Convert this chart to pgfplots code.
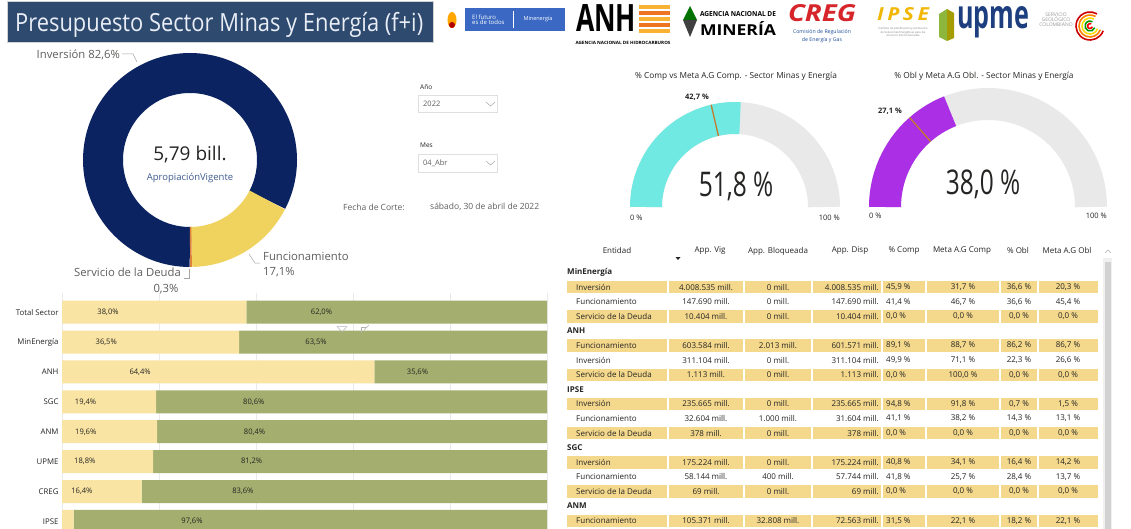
\documentclass[border=0pt]{standalone}
\usepackage{pgfplots}
\pgfplotsset{compat=1.18}
\usepackage{pgfplotstable}
\usepackage{fontspec}
\setmainfont{Open Sans}

\definecolor{titlebg}{HTML}{2E4A6F}
\definecolor{titletxt}{HTML}{E9EEF6}
\definecolor{navy}{HTML}{0B2361}
\definecolor{dyellow}{HTML}{F0D35E}
\definecolor{dorange}{HTML}{E0823A}
\definecolor{gcyan}{HTML}{6FE9E1}
\definecolor{gpurple}{HTML}{AB2FE4}
\definecolor{ggray}{HTML}{E9E9E9}
\definecolor{gtarget}{HTML}{C27B2E}
\definecolor{barY}{HTML}{F9E4A3}
\definecolor{barO}{HTML}{A4AE6E}
\definecolor{rowhl}{HTML}{F4D88C}
\definecolor{txt}{HTML}{252423}
\definecolor{txtgray}{HTML}{605E5C}
\definecolor{subblue}{HTML}{3E5C8E}
\definecolor{gridgray}{HTML}{EAEAEA}
\definecolor{minblue}{HTML}{3A68C2}
\definecolor{cregred}{HTML}{D7262B}
\definecolor{cregblue}{HTML}{1F4E9C}
\definecolor{ipseyel}{HTML}{F2B705}
\definecolor{upmeblue}{HTML}{1E3F7F}
\definecolor{upmegreen}{HTML}{8DB63C}
\definecolor{anhorange}{HTML}{EE7422}
\definecolor{anhyellow}{HTML}{F9B233}

\newcommand\fs[1]{\fontsize{#1}{#1}\selectfont}
\tikzset{tc/.style={font=\fs{8}, text=txt, inner sep=0pt}}

\pgfplotstableread{
seg pct
Inversion 82.6
Funcionamiento 17.1
Servicio 0.3
}\donutdata

\pgfplotstableread{
gauge value target
comp 51.8 42.7
obl 38.0 27.1
}\gaugedata

\pgfplotstableread{
idx obl obllab rest restlab
0 38.0 38,0\% 62.0 62,0\%
1 36.5 36,5\% 63.5 63,5\%
2 64.4 64,4\% 35.6 35,6\%
3 19.4 19,4\% 80.6 80,6\%
4 19.6 19,6\% 80.4 80,4\%
5 18.8 18,8\% 81.2 81,2\%
6 16.4 16,4\% 83.6 83,6\%
7 2.4 {} 97.6 97,6\%
}\bardata

\newcommand\trow[9]{\def\ry{#1}\def\rh{#2}\def\ra{#3}\def\rb{#4}\def\rc{#5}\def\rd{#6}\def\re{#7}\def\rf{#8}\def\rg{#9}\trowfin}
\newcommand\trowfin[1]{%
  \ifnum\rh=1
    \foreach \xa/\xb in {566/668,668/744,744/812,812/882,882/926,926/1000,1000/1038,1038/1099}
      {\fill[rowhl] (\xa+0.7,\ry-6.2) rectangle (\xb-0.7,\ry+6.2);}
  \fi
  \node[tc,anchor=west] at (576,\ry) {\ra};
  \node[tc] at (706,\ry) {\rb};
  \node[tc] at (778,\ry) {\rc};
  \node[tc,anchor=east] at (879,\ry) {\rd};
  \node[tc,anchor=west] at (886,\ry) {\re};
  \node[tc] at (963,\ry) {\rf};
  \node[tc] at (1019,\ry) {\rg};
  \node[tc] at (1068,\ry) {#1};
}
\newcommand\tsec[2]{\node[tc,anchor=west,font=\bfseries\fs{8}] at (567,#1) {#2};}

\begin{document}
\begin{tikzpicture}[x=1pt,y=-1pt]
\path[use as bounding box] (0,0) rectangle (1131,529);
\clip (0,0) rectangle (1131,529);
\fill[white] (0,0) rectangle (1131,529);

% ---- values from the tables
\pgfplotstablegetelem{0}{pct}\of\donutdata \let\pInv\pgfplotsretval
\pgfplotstablegetelem{1}{pct}\of\donutdata \let\pFun\pgfplotsretval
\pgfplotstablegetelem{2}{pct}\of\donutdata \let\pSer\pgfplotsretval
\pgfmathsetmacro\dA{270}
\pgfmathsetmacro\dB{270-3.6*\pInv}
\pgfmathsetmacro\dC{\dB-3.6*\pFun}
\pgfmathsetmacro\dD{\dC-3.6*\pSer}
\pgfplotstablegetelem{0}{value}\of\gaugedata \let\gVa\pgfplotsretval
\pgfplotstablegetelem{0}{target}\of\gaugedata \let\gTa\pgfplotsretval
\pgfplotstablegetelem{1}{value}\of\gaugedata \let\gVb\pgfplotsretval
\pgfplotstablegetelem{1}{target}\of\gaugedata \let\gTb\pgfplotsretval
\pgfmathsetmacro\gaA{180-1.8*\gVa}
\pgfmathsetmacro\gtA{180-1.8*\gTa}
\pgfmathsetmacro\gaB{180-1.8*\gVb}
\pgfmathsetmacro\gtB{180-1.8*\gTb}

% ---- title bar
\fill[titlebg] (7,1) rectangle (433,42);
\draw[gray!35, line width=0.6pt] (7,1) rectangle (433,42);
\node[anchor=base west, text=titletxt, inner sep=0pt] at (15,32) {\resizebox{408pt}{\height}{\fs{25}Presupuesto Sector Minas y Energía (f+i)}};

% ---- logos (approximate)
\fill[orange!70!yellow] (452,20) ellipse (4.5 and 8);
\fill[red!70!black] (452,25) ellipse (3 and 3);
\fill[minblue] (465,8) rectangle (565,31);
\node[anchor=west, text=white, inner sep=0pt, align=left, font=\fs{6}] at (472,19.5) {El futuro\\[-0.5pt]es de todos};
\draw[white, line width=0.4pt] (513,11) -- (513,28);
\node[text=white, inner sep=0pt, font=\fs{5.5}] at (538,19.5) {Minenergía};
\node[anchor=west, inner sep=0pt] at (576,18.5) {\resizebox{60pt}{27pt}{\bfseries ANH}};
\foreach \yy/\cc in {5/anhyellow,11/anhorange,17/anhyellow,23/anhorange,29/anhyellow}
  {\fill[\cc] (639,\yy) rectangle (670,\yy+4);}
\node[inner sep=0pt] at (623,42.5) {\resizebox{95pt}{3.2pt}{\bfseries AGENCIA NACIONAL DE HIDROCARBUROS}};
\fill[green!45!black] (690,6) -- (697,20) -- (683,20) -- cycle;
\fill[black!75] (683,20) -- (697,20) -- (690,37) -- cycle;
\node[inner sep=0pt] at (738,14) {\resizebox{76pt}{5pt}{\bfseries AGENCIA NACIONAL DE}};
\node[inner sep=0pt] at (738,29) {\resizebox{76pt}{14pt}{\bfseries MINERÍA}};
\node[inner sep=0pt, text=cregred] at (822,13) {\resizebox{68pt}{17pt}{\bfseries\itshape CREG}};
\node[inner sep=0pt, text=cregblue, font=\fs{5.2}] at (822,32) {Comisión de Regulación};
\node[inner sep=0pt, text=cregblue, font=\fs{5.2}] at (822,40) {de Energía y Gas};
\node[inner sep=0pt, text=ipseyel] at (903,14) {\resizebox{52pt}{13pt}{\bfseries\itshape I\,P\,S\,E}};
\node[inner sep=0pt, text=gray, font=\fs{2.8}, align=center] at (903,32) {Instituto de planificación y promoción\\de Soluciones Energéticas para las\\zonas no interconectadas};
\fill[upmegreen] (939,14) -- (947,9) -- (947,41) -- (939,37) -- cycle;
\fill[olive!80!yellow] (947,9) -- (954,13) -- (954,38) -- (947,41) -- cycle;
\node[inner sep=0pt, text=upmeblue] at (993,22) {\resizebox{72pt}{22pt}{\bfseries upme}};
\node[inner sep=0pt, text=gray!80, font=\fs{5}, align=center] at (1056,20) {SERVICIO\\GEOLÓGICO\\COLOMBIANO};
\foreach \rr/\cc in {14/red!80!black,11/orange,8/yellow!80!orange,5/green!60!black,2.5/red}
  {\draw[\cc, line width=1.6pt] (1090,26) ++(20:\rr) arc[start angle=20, end angle=300, radius=\rr];}

% ---- donut
\begin{axis}[at={(190pt,-160pt)}, anchor=center, x=1pt, y=1pt,
  xmin=-115, xmax=115, ymin=-115, ymax=115, hide axis, clip=false]
\addplot[draw=navy, line width=40pt, domain=\dB:\dA, samples=120, variable=\t] ({87*cos(\t)},{87*sin(\t)});
\addplot[draw=dyellow, line width=40pt, domain=\dC:\dB, samples=40, variable=\t] ({87*cos(\t)},{87*sin(\t)});
\addplot[draw=dorange, line width=40pt, domain=\dD:\dC, samples=3, variable=\t] ({87*cos(\t)},{87*sin(\t)});
\end{axis}
\node[font=\fs{19}, text=txt] at (190,155) {5,79 bill.};
\node[font=\fs{9.5}, text=subblue] at (190,178) {ApropiaciónVigente};
\node[anchor=east, font=\fs{11.3}, text=txtgray, inner sep=0pt] at (120,55) {Inversión 82,6\%};
\draw[gray!70, line width=0.5pt] (122,54) -- (133,54) -- (137,62);
\node[anchor=west, font=\fs{11.3}, text=txtgray, inner sep=0pt] at (263,256) {Funcionamiento};
\node[anchor=west, font=\fs{11.3}, text=txtgray, inner sep=0pt] at (263,272) {17,1\%};
\draw[gray!70, line width=0.5pt] (249,254) -- (255,263) -- (260,263);
\node[anchor=east, font=\fs{11.3}, text=txtgray, inner sep=0pt] at (181,272) {Servicio de la Deuda};
\draw[gray!70, line width=0.5pt] (184,278) -- (189,278) -- (189,269);
\node[font=\fs{11.3}, text=txtgray, inner sep=0pt] at (166,289) {0,3\%};

% ---- slicers
\node[anchor=west, font=\fs{6.5}, text=txt, inner sep=0pt] at (420,87) {Año};
\draw[gray!25, line width=0.5pt] (418,95) rectangle (497,112);
\node[anchor=west, font=\fs{7.5}, text=txtgray, inner sep=0pt] at (423,104) {2022};
\draw[gray!70, line width=0.5pt] (486,102) -- (490.5,106) -- (495,102);
\node[anchor=west, font=\fs{6.5}, text=txt, inner sep=0pt] at (420,145) {Mes};
\draw[gray!25, line width=0.5pt] (418,154) rectangle (497,172);
\node[anchor=west, font=\fs{7.5}, text=txtgray, inner sep=0pt] at (423,163) {04\_Abr};
\draw[gray!70, line width=0.5pt] (486,161) -- (490.5,165) -- (495,161);
\node[anchor=west, font=\fs{8.5}, text=txtgray, inner sep=0pt] at (343,207) {Fecha de Corte:};
\node[anchor=west, font=\fs{8.5}, text=txtgray, inner sep=0pt] at (430,207) {sábado, 30 de abril de 2022};

% ---- gauge 1
\node[font=\fs{8.3}, text=txt] at (736,76) {\% Comp vs Meta A.G Comp. - Sector Minas y Energía};
\begin{axis}[at={(735pt,-207pt)}, anchor=center, x=1pt, y=1pt,
  xmin=-130, xmax=130, ymin=-130, ymax=130, hide axis, clip=false]
\addplot[draw=ggray, line width=32pt, domain=0:180, samples=90, variable=\t] ({89*cos(\t)},{89*sin(\t)});
\addplot[draw=gcyan, line width=32pt, domain=\gaA:180, samples=60, variable=\t] ({89*cos(\t)},{89*sin(\t)});
\addplot[draw=gtarget, line width=1.3pt, domain=73:105, samples=2, variable=\r] ({\r*cos(\gtA)},{\r*sin(\gtA)});
\node[font=\bfseries\fs{7.5}, text=txt] at (axis cs:-38,110) {42,7 \%};
\node[text=txt] at (axis cs:1,21) {\scalebox{0.72}[1]{\fs{34}51,8 \%}};
\node[anchor=west, font=\fs{7.5}, text=txt, inner sep=0pt] at (axis cs:-105,-11) {0 \%};
\node[anchor=east, font=\fs{7.5}, text=txt, inner sep=0pt] at (axis cs:105,-11) {100 \%};
\end{axis}

% ---- gauge 2
\node[font=\fs{8.3}, text=txt] at (984,76) {\% Obl y Meta A.G Obl. - Sector Minas y Energía};
\begin{axis}[at={(988pt,-207pt)}, anchor=center, x=1pt, y=1pt,
  xmin=-140, xmax=140, ymin=-140, ymax=140, hide axis, clip=false]
\addplot[draw=ggray, line width=32pt, domain=0:180, samples=90, variable=\t] ({103*cos(\t)},{103*sin(\t)});
\addplot[draw=gpurple, line width=32pt, domain=\gaB:180, samples=60, variable=\t] ({103*cos(\t)},{103*sin(\t)});
\addplot[draw=gtarget, line width=1.3pt, domain=87:119, samples=2, variable=\r] ({\r*cos(\gtB)},{\r*sin(\gtB)});
\node[font=\bfseries\fs{7.5}, text=txt] at (axis cs:-98,96) {27,1 \%};
\node[text=txt] at (axis cs:-5,23) {\scalebox{0.72}[1]{\fs{34}38,0 \%}};
\node[anchor=west, font=\fs{7.5}, text=txt, inner sep=0pt] at (axis cs:-119,-9) {0 \%};
\node[anchor=east, font=\fs{7.5}, text=txt, inner sep=0pt] at (axis cs:119,-9) {100 \%};
\end{axis}

% ---- stacked 100% bars
\begin{axis}[at={(62pt,-293pt)}, anchor=north west, x=4.85pt, y=29.9pt,
  xmin=0, xmax=100, ymin=-0.64, ymax=7.7, y dir=reverse,
  xbar stacked, bar width=23pt, enlargelimits=false,
  axis line style={draw=none}, tick style={draw=none},
  xtick={0,20,...,100}, xticklabels={}, xmajorgrids,
  grid style={color=gridgray, line width=0.7pt},
  ytick={0,...,7}, yticklabels={Total Sector,MinEnergía,ANH,SGC,ANM,UPME,CREG,IPSE},
  yticklabel style={font=\fs{7.8}, text=txt},
  clip=false, point meta=explicit symbolic,
  nodes near coords={\pgfplotspointmeta}]
\addplot[fill=barY, draw=none, visualization depends on={\thisrow{obl} \as \segw},
  every node near coord/.append style={anchor=center, xshift={-1.2125pt*\segw}, font=\fs{7.6}, text=txt}]
  table[x=obl, y=idx, meta=obllab] {\bardata};
\addplot[fill=barO, draw=none, visualization depends on={\thisrow{rest} \as \segw},
  every node near coord/.append style={anchor=center, xshift={-1.2125pt*\segw}, font=\fs{7.6}, text=txt}]
  table[x=rest, y=idx, meta=restlab] {\bardata};
\end{axis}
% visual header icons over the bar chart
\draw[gray!60, line width=0.5pt] (337,326.5) -- (347,326.5) -- (342,332) -- cycle;
\draw[gray!60, line width=0.5pt] (361,333) -- (361,327) -- (367,327);
\draw[gray!60, line width=0.5pt] (364,330) -- (369,325);

% ---- table
\node[tc] at (617,251) {Entidad};
\node[tc] at (710,251) {App. Vig};
\fill[txt] (675.5,257) -- (680.5,257) -- (678,260) -- cycle;
\node[tc] at (778,251) {App. Bloqueada};
\node[tc] at (850,251) {App. Disp};
\node[tc] at (904,251) {\% Comp};
\node[tc] at (962,251) {Meta A.G Comp};
\node[tc] at (1018,251) {\% Obl};
\node[tc] at (1067,251) {Meta A.G Obl};
\draw[gray!60, line width=0.5pt] (1105,253) -- (1108,250) -- (1111,253);
\fill[gray!12] (1103,258) rectangle (1112,529);
\fill[gray!35] (1104.5,262) rectangle (1110.5,529);

\tsec{272.5}{MinEnergía}
\trow{287.1}{1}{Inversión}{4.008.535 mill.}{0 mill.}{4.008.535 mill.}{45,9 \%}{31,7 \%}{36,6 \%}{20,3 \%}
\trow{301.7}{0}{Funcionamiento}{147.690 mill.}{0 mill.}{147.690 mill.}{41,4 \%}{46,7 \%}{36,6 \%}{45,4 \%}
\trow{316.3}{1}{Servicio de la Deuda}{10.404 mill.}{0 mill.}{10.404 mill.}{0,0 \%}{0,0 \%}{0,0 \%}{0,0 \%}
\tsec{330.9}{ANH}
\trow{345.5}{1}{Funcionamiento}{603.584 mill.}{2.013 mill.}{601.571 mill.}{89,1 \%}{88,7 \%}{86,2 \%}{86,7 \%}
\trow{360.1}{0}{Inversión}{311.104 mill.}{0 mill.}{311.104 mill.}{49,9 \%}{71,1 \%}{22,3 \%}{26,6 \%}
\trow{374.7}{1}{Servicio de la Deuda}{1.113 mill.}{0 mill.}{1.113 mill.}{0,0 \%}{100,0 \%}{0,0 \%}{0,0 \%}
\tsec{389.3}{IPSE}
\trow{403.9}{1}{Inversión}{235.665 mill.}{0 mill.}{235.665 mill.}{94,8 \%}{91,8 \%}{0,7 \%}{1,5 \%}
\trow{418.5}{0}{Funcionamiento}{32.604 mill.}{1.000 mill.}{31.604 mill.}{41,1 \%}{38,2 \%}{14,3 \%}{13,1 \%}
\trow{433.1}{1}{Servicio de la Deuda}{378 mill.}{0 mill.}{378 mill.}{0,0 \%}{0,0 \%}{0,0 \%}{0,0 \%}
\tsec{447.7}{SGC}
\trow{462.3}{1}{Inversión}{175.224 mill.}{0 mill.}{175.224 mill.}{40,8 \%}{34,1 \%}{16,4 \%}{14,2 \%}
\trow{476.9}{0}{Funcionamiento}{58.144 mill.}{400 mill.}{57.744 mill.}{41,8 \%}{25,7 \%}{28,4 \%}{13,7 \%}
\trow{491.5}{1}{Servicio de la Deuda}{69 mill.}{0 mill.}{69 mill.}{0,0 \%}{0,0 \%}{0,0 \%}{0,0 \%}
\tsec{506.1}{ANM}
\trow{520.7}{1}{Funcionamiento}{105.371 mill.}{32.808 mill.}{72.563 mill.}{31,5 \%}{22,1 \%}{18,2 \%}{22,1 \%}

\end{tikzpicture}
\end{document}
